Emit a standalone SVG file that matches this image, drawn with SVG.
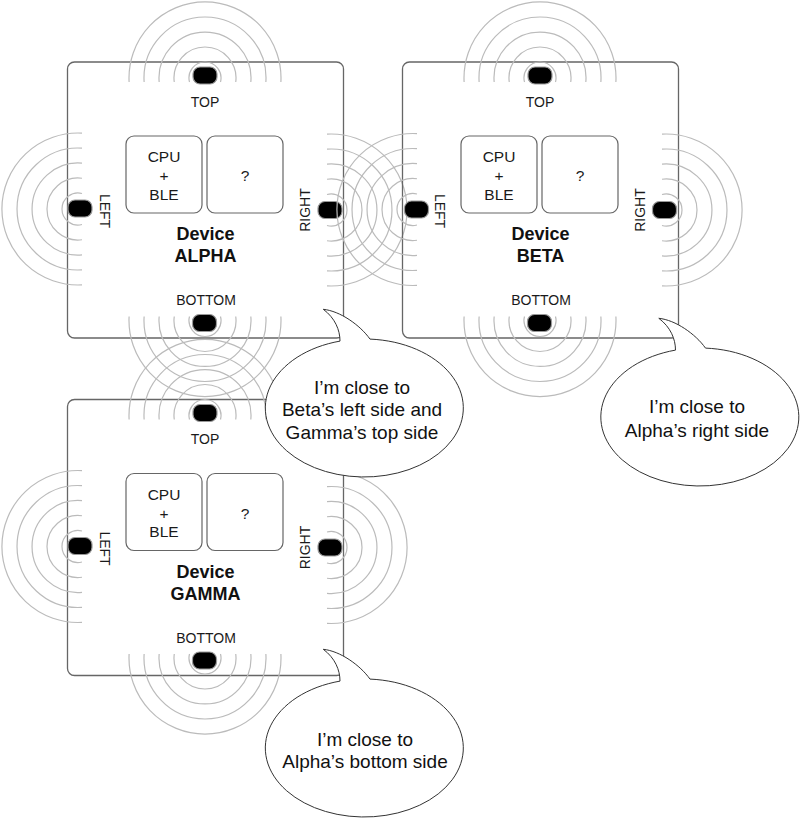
<svg xmlns="http://www.w3.org/2000/svg" xmlns:xlink="http://www.w3.org/1999/xlink" width="800" height="821" viewBox="0 0 800 821">
<style>
  text { font-family: "Liberation Sans", Arial, sans-serif; fill: #1a1a1a; }
  .box { fill: none; stroke: #666; stroke-width: 1.3; }
  .chip { fill: none; stroke: #666; stroke-width: 1.2; }
  .wave { fill: none; stroke: #bbb; stroke-width: 1.2; }
  .pill { fill: #000; stroke: #999; stroke-width: 1.2; }
  .side { font-size: 14px; text-anchor: middle; }
  .chipt { font-size: 15.5px; text-anchor: middle; }
  .dev { font-size: 18px; font-weight: bold; text-anchor: middle; fill: #111; }
  .bub { fill: #fff; stroke: #333; stroke-width: 1; }
  .bubt { font-size: 19px; text-anchor: middle; fill: #111; }
</style>
<defs>
  <path id="waves" class="wave" d="M-15.49,4 A16,16 0 1 1 15.49,4 M-30.74,4 A31,31 0 1 1 30.74,4 M-45.83,4 A46,46 0 1 1 45.83,4 M-60.87,4 A61,61 0 1 1 60.87,4 M-75.89,4 A76,76 0 1 1 75.89,4"/>
  <rect id="pill" class="pill" x="-12" y="-8.5" width="24" height="17" rx="7"/>
  <path id="bubble" class="bub" d="M323.3,309.3 C340,311 360,325 370,339.1 A99,69 0 1 1 340,341.1 C340,330 335,318 323.3,309.3 Z"/>
</defs>

<g id="device-alpha">
  <rect class="box" x="67.5" y="62" width="276" height="276" rx="7"/>
  <use href="#waves" transform="translate(205,78)"/>
  <use href="#waves" transform="translate(205,320.5) rotate(180)"/>
  <use href="#waves" transform="translate(78,209) rotate(-90)"/>
  <use href="#waves" transform="translate(331,210) rotate(90)"/>
  <use href="#pill" x="205" y="75.5"/>
  <use href="#pill" x="204.5" y="323"/>
  <use href="#pill" x="80" y="208.5"/>
  <use href="#pill" x="330" y="210"/>
  <text class="side" x="205" y="106.5">TOP</text>
  <text class="side" x="206" y="305">BOTTOM</text>
  <text class="side" transform="translate(99.5,211) rotate(90)">LEFT</text>
  <text class="side" transform="translate(309.5,210) rotate(-90)">RIGHT</text>
  <rect class="chip" x="126" y="136" width="76" height="77" rx="8"/>
  <rect class="chip" x="207" y="136" width="76" height="77" rx="8"/>
  <text class="chipt" x="164" y="162">CPU</text>
  <text class="chipt" x="164" y="181">+</text>
  <text class="chipt" x="164" y="199.5">BLE</text>
  <text class="chipt" x="245" y="181">?</text>
  <text class="dev" x="205.5" y="240">Device</text>
  <text class="dev" x="205.5" y="262">ALPHA</text>
</g>

<g id="device-beta">
  <rect class="box" x="402.5" y="62" width="276" height="276" rx="7"/>
  <use href="#waves" transform="translate(540,78)"/>
  <use href="#waves" transform="translate(540,320.5) rotate(180)"/>
  <use href="#waves" transform="translate(413,209.5) rotate(-90)"/>
  <use href="#waves" transform="translate(666,210) rotate(90)"/>
  <use href="#pill" x="540" y="75.5"/>
  <use href="#pill" x="539.5" y="323"/>
  <use href="#pill" x="416.5" y="209.5"/>
  <use href="#pill" x="664.5" y="210"/>
  <text class="side" x="540" y="106.5">TOP</text>
  <text class="side" x="541" y="305">BOTTOM</text>
  <text class="side" transform="translate(434.5,211) rotate(90)">LEFT</text>
  <text class="side" transform="translate(644.5,210) rotate(-90)">RIGHT</text>
  <rect class="chip" x="461" y="136" width="76" height="77" rx="8"/>
  <rect class="chip" x="542" y="136" width="76" height="77" rx="8"/>
  <text class="chipt" x="499" y="162">CPU</text>
  <text class="chipt" x="499" y="181">+</text>
  <text class="chipt" x="499" y="199.5">BLE</text>
  <text class="chipt" x="580" y="181">?</text>
  <text class="dev" x="540.5" y="240">Device</text>
  <text class="dev" x="540.5" y="262">BETA</text>
</g>

<g id="device-gamma">
  <rect class="box" x="67.5" y="399.5" width="276" height="276" rx="7"/>
  <use href="#waves" transform="translate(205,415.5)"/>
  <use href="#waves" transform="translate(205,658) rotate(180)"/>
  <use href="#waves" transform="translate(78,546.5) rotate(-90)"/>
  <use href="#waves" transform="translate(331,547.5) rotate(90)"/>
  <use href="#pill" x="205" y="413"/>
  <use href="#pill" x="204.5" y="660.5"/>
  <use href="#pill" x="80" y="546"/>
  <use href="#pill" x="330" y="547.5"/>
  <text class="side" x="205" y="444">TOP</text>
  <text class="side" x="206" y="642.5">BOTTOM</text>
  <text class="side" transform="translate(99.5,548.5) rotate(90)">LEFT</text>
  <text class="side" transform="translate(309.5,547.5) rotate(-90)">RIGHT</text>
  <rect class="chip" x="126" y="473.5" width="76" height="77" rx="8"/>
  <rect class="chip" x="207" y="473.5" width="76" height="77" rx="8"/>
  <text class="chipt" x="164" y="499.5">CPU</text>
  <text class="chipt" x="164" y="518.5">+</text>
  <text class="chipt" x="164" y="537">BLE</text>
  <text class="chipt" x="245" y="518.5">?</text>
  <text class="dev" x="205.5" y="577.5">Device</text>
  <text class="dev" x="205.5" y="599.5">GAMMA</text>
</g>

<g id="connectors"></g>

<g id="bubble-alpha">
  <use href="#bubble"/>
  <text class="bubt" x="362" y="393.5">I’m close to</text>
  <text class="bubt" x="362" y="416">Beta’s left side and</text>
  <text class="bubt" x="362" y="438.5">Gamma’s top side</text>
</g>
<g id="bubble-beta">
  <use href="#bubble" transform="translate(335.5,9)"/>
  <text class="bubt" x="697" y="413.3">I’m close to</text>
  <text class="bubt" x="697" y="436.7">Alpha’s right side</text>
</g>
<g id="bubble-gamma">
  <use href="#bubble" transform="translate(0,340)"/>
  <text class="bubt" x="365" y="746">I’m close to</text>
  <text class="bubt" x="365" y="768.3">Alpha’s bottom side</text>
</g>
</svg>
